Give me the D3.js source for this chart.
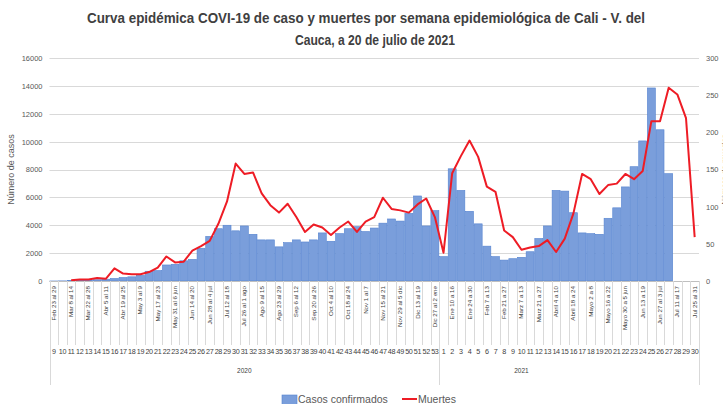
<html lang="es">
<head>
<meta charset="utf-8">
<title>Curva epidémica COVID-19 Cali</title>
<script src="https://cdnjs.cloudflare.com/ajax/libs/d3/7.8.5/d3.min.js"></script>
<style>
  body { margin: 0; background: #ffffff; }
  text { font-family: "Liberation Sans", Arial, sans-serif; }
</style>
</head>
<body></body>
<script type="text/javascript">

//****************************************************************************************************************************//
// Data

var weeks2020 = [9,10,11,12,13,14,15,16,17,18,19,20,21,22,23,24,25,26,27,28,29,30,31,32,33,34,35,36,37,38,39,40,41,42,43,44,45,46,47,48,49,50,51,52,53];
var weeks2021 = [1,2,3,4,5,6,7,8,9,10,11,12,13,14,15,16,17,18,19,20,21,22,23,24,25,26,27,28,29,30];

// date labels, one every second week
var dates2020 = ["Feb 23 al 29","Mar 8 al 14","Mar 22 al 28","Abr 5 al 11","Abr 19 al 25","May 3 al 9","May 17 al 23",
                 "May 31 al 6 jun","Jun 14 al 20","Jun 28 al 4 jul","Jul 12 al 18","Jul 26 al 1 ago","Ago 9 al 15",
                 "Ago 23 al 29","Sep 6 al 12","Sep 20 al 26","Oct 4 al 10","Oct 18 al 24","Nov 1 al 7","Nov 15 al 21",
                 "Nov 29 al 5 dic","Dic 13 al 19","Dic 27 al 2 ene"];
var dates2021 = ["Ene 10 a 16","Ene 24 a 30","Feb 7 a 13","Feb 21 a 27","Marz 7 a 13","Marz 21 a 27","Abril 4 a 10",
                 "Abril 18 a 24","Mayo 2 a 8","Mayo 16 a 22","Mayo 30 a 5 jun","Jun 13 a 19","Jun 27 al 3 jul",
                 "Jul 11 al 17","Jul 25 al 31"];

var casos2020 = [2,8,30,60,70,90,130,180,250,300,400,700,750,1150,1200,1450,1550,2350,3200,3750,4000,3600,3950,3350,2950,
                 2950,2450,2750,2950,2800,2950,3450,2850,3400,3750,3900,3550,3800,4150,4450,4300,4850,6100,3950,5050];
var casos2021 = [1750,8050,6500,5000,4100,2500,1750,1500,1600,1700,2100,3050,3950,6500,6450,4900,3450,3400,3350,4500,
                 5250,6750,8200,10050,13850,10850,7700,0,0,0];

var muertes2020 = [null,null,1,2,2,4,3,17,10,9,9,12,18,33,25,26,41,47,54,77,107,158,144,146,118,102,92,104,86,66,
                   76,72,62,72,80,66,80,86,112,97,95,92,103,111,86];
var muertes2021 = [38,145,168,189,167,127,120,68,59,42,45,47,55,39,57,91,144,137,117,129,131,144,137,148,215,215,260,251,219,59];

var casosTicks = [0,2000,4000,6000,8000,10000,12000,14000,16000];
var muertesTicks = [0,50,100,150,200,250,300];

//****************************************************************************************************************************//
// Rows

var rows = [];
weeks2020.forEach(function(w, i){
    rows.push({ key: "2020-" + w, year: "2020", week: w, casos: casos2020[i], muertes: muertes2020[i],
                date: (i % 2 == 0) ? dates2020[i/2] : "" });
});
weeks2021.forEach(function(w, i){
    rows.push({ key: "2021-" + w, year: "2021", week: w, casos: casos2021[i], muertes: muertes2021[i],
                date: (i % 2 == 1) ? dates2021[(i-1)/2] : "" });
});

//****************************************************************************************************************************//
// Canvas

var width = 723,
    height = 404;

var plot = { left: 49.5, right: 699, top: 58, bottom: 281 };

var canvas = d3.select("body")
            .append("svg")
            .attr("width", width)
            .attr("height", height);

canvas.append("rect")
        .attr("width", width)
        .attr("height", height)
        .attr("fill", "#ffffff");

//****************************************************************************************************************************//
// Scales

var xCat = d3.scaleBand()
            .domain(rows.map(function(d){ return d.key; }))
            .range([plot.left, plot.right]);

var xBar = d3.scaleBand()
            .domain(xCat.domain())
            .range([plot.left, plot.right])
            .paddingInner(0.08)
            .paddingOuter(0.04);

var yCasos = d3.scaleLinear().domain([0, 16000]).range([plot.bottom, plot.top]);
var yMuertes = d3.scaleLinear().domain([0, 300]).range([plot.bottom, plot.top]);

//****************************************************************************************************************************//
// Title

var title = canvas.append("g")
            .attr("font-weight", "bold")
            .attr("fill", "#404040")
            .attr("text-anchor", "middle")
            .style("font-family", "'Liberation Sans Narrow', 'Liberation Sans', Arial, sans-serif")
            .style("font-size", "14px");

title.append("text")
        .attr("x", 366)
        .attr("y", 23)
        .attr("textLength", 558)
        .attr("lengthAdjust", "spacingAndGlyphs")
        .text("Curva epidémica COVI-19 de caso y muertes por semana epidemiológica de Cali - V. del");

title.append("text")
        .attr("x", 375)
        .attr("y", 45)
        .attr("textLength", 160)
        .attr("lengthAdjust", "spacingAndGlyphs")
        .text("Cauca, a 20 de julio de 2021");

//****************************************************************************************************************************//
// Grid and axes

canvas.append("g")
        .selectAll("line")
        .data(casosTicks)
        .enter()
        .append("line")
        .attr("x1", plot.left)
        .attr("x2", plot.right)
        .attr("y1", function(d){ return Math.round(yCasos(d)) + 0.5; })
        .attr("y2", function(d){ return Math.round(yCasos(d)) + 0.5; })
        .attr("stroke", "#d9d9d9")
        .attr("stroke-width", 1);

var leftAxis = canvas.append("g")
        .attr("transform", "translate(" + (plot.left - 7) + ",0)")
        .call(d3.axisLeft(yCasos).tickValues(casosTicks).tickFormat(d3.format("d")).tickSize(0).tickPadding(0));
leftAxis.select(".domain").remove();
leftAxis.selectAll("text")
        .attr("fill", "#595959")
        .style("font-size", "7.5px");

var rightAxis = canvas.append("g")
        .attr("transform", "translate(" + (plot.right + 7) + ",0)")
        .call(d3.axisRight(yMuertes).tickValues(muertesTicks).tickFormat(d3.format("d")).tickSize(0).tickPadding(0));
rightAxis.select(".domain").remove();
rightAxis.selectAll("text")
        .attr("fill", "#595959")
        .style("font-size", "7.5px");

canvas.append("text")
        .attr("transform", "translate(14," + ((plot.top + plot.bottom) / 2) + ") rotate(-90)")
        .attr("text-anchor", "middle")
        .attr("fill", "#595959")
        .style("font-size", "9px")
        .text("Número de casos");

// secondary axis title sits on the right edge, as in the source
canvas.append("text")
        .attr("transform", "translate(727," + ((plot.top + plot.bottom) / 2) + ") rotate(-90)")
        .attr("text-anchor", "middle")
        .attr("fill", "#595959")
        .style("font-size", "8px")
        .text("Número de muertes");

//****************************************************************************************************************************//
// Bars

canvas.append("g")
        .selectAll("rect")
        .data(rows.filter(function(d){ return d.casos > 0; }))
        .enter()
        .append("rect")
        .attr("x", function(d){ return xBar(d.key); })
        .attr("y", function(d){ return yCasos(d.casos); })
        .attr("width", xBar.bandwidth())
        .attr("height", function(d){ return plot.bottom - yCasos(d.casos); })
        .attr("fill", "#7a9edb")
        .attr("stroke", "#5583d0")
        .attr("stroke-width", 0.6);

//****************************************************************************************************************************//
// Deaths line

var line = d3.line()
        .defined(function(d){ return d.muertes != null; })
        .x(function(d){ return xCat(d.key) + xCat.bandwidth() / 2; })
        .y(function(d){ return yMuertes(d.muertes); });

canvas.append("path")
        .datum(rows)
        .attr("d", line)
        .attr("fill", "none")
        .attr("stroke", "#ee1c25")
        .attr("stroke-width", 2)
        .attr("stroke-linejoin", "round");

//****************************************************************************************************************************//
// Category axis (dates, weeks, years)

canvas.append("line")
        .attr("x1", plot.left)
        .attr("x2", plot.right)
        .attr("y1", plot.bottom + 0.5)
        .attr("y2", plot.bottom + 0.5)
        .attr("stroke", "#bfbfbf");

var bounds = xCat.domain().map(function(k){ return xCat(k); }).concat([plot.right]);

canvas.append("g")
        .selectAll("line")
        .data(bounds)
        .enter()
        .append("line")
        .attr("x1", function(d){ return Math.round(d) + 0.5; })
        .attr("x2", function(d){ return Math.round(d) + 0.5; })
        .attr("y1", plot.bottom)
        .attr("y2", 345)
        .attr("stroke", "#d9d9d9");

canvas.append("g")
        .selectAll("text")
        .data(rows.filter(function(d){ return d.date != ""; }))
        .enter()
        .append("text")
        .attr("transform", function(d){
            return "translate(" + (xCat(d.key) + xCat.bandwidth() / 2 + 2) + "," + (plot.bottom + 5) + ") rotate(-90)";
        })
        .attr("text-anchor", "end")
        .attr("fill", "#404040")
        .style("font-size", "6.2px")
        .text(function(d){ return d.date; });

canvas.append("g")
        .selectAll("text")
        .data(rows)
        .enter()
        .append("text")
        .attr("x", function(d){ return xCat(d.key) + xCat.bandwidth() / 2; })
        .attr("y", 354)
        .attr("text-anchor", "middle")
        .attr("fill", "#404040")
        .style("font-size", "7.2px")
        .style("letter-spacing", "-0.3px")
        .text(function(d){ return d.week; });

// year groups
var firstOf2021 = xCat("2021-1");
[plot.left, firstOf2021, plot.right].forEach(function(xv){
    canvas.append("line")
        .attr("x1", Math.round(xv) + 0.5)
        .attr("x2", Math.round(xv) + 0.5)
        .attr("y1", 345)
        .attr("y2", 385)
        .attr("stroke", "#d9d9d9");
});

canvas.append("text")
        .attr("x", (plot.left + firstOf2021) / 2)
        .attr("y", 373)
        .attr("text-anchor", "middle")
        .attr("fill", "#404040")
        .style("font-size", "6.5px")
        .text("2020");

canvas.append("text")
        .attr("x", xCat("2021-10") + xCat.bandwidth() / 2)
        .attr("y", 373)
        .attr("text-anchor", "middle")
        .attr("fill", "#404040")
        .style("font-size", "6.5px")
        .text("2021");

//****************************************************************************************************************************//
// Legend

var legend = canvas.append("g");

legend.append("rect")
        .attr("x", 282)
        .attr("y", 395)
        .attr("width", 15)
        .attr("height", 10)
        .attr("fill", "#7a9edb")
        .attr("stroke", "#5583d0")
        .attr("stroke-width", 0.6);

legend.append("text")
        .attr("x", 298)
        .attr("y", 403)
        .attr("fill", "#595959")
        .style("font-size", "10.5px")
        .text("Casos confirmados");

legend.append("line")
        .attr("x1", 402)
        .attr("x2", 417)
        .attr("y1", 399)
        .attr("y2", 399)
        .attr("stroke", "#ee1c25")
        .attr("stroke-width", 2);

legend.append("text")
        .attr("x", 418)
        .attr("y", 403)
        .attr("fill", "#595959")
        .style("font-size", "10.5px")
        .text("Muertes");

</script>
</html>
